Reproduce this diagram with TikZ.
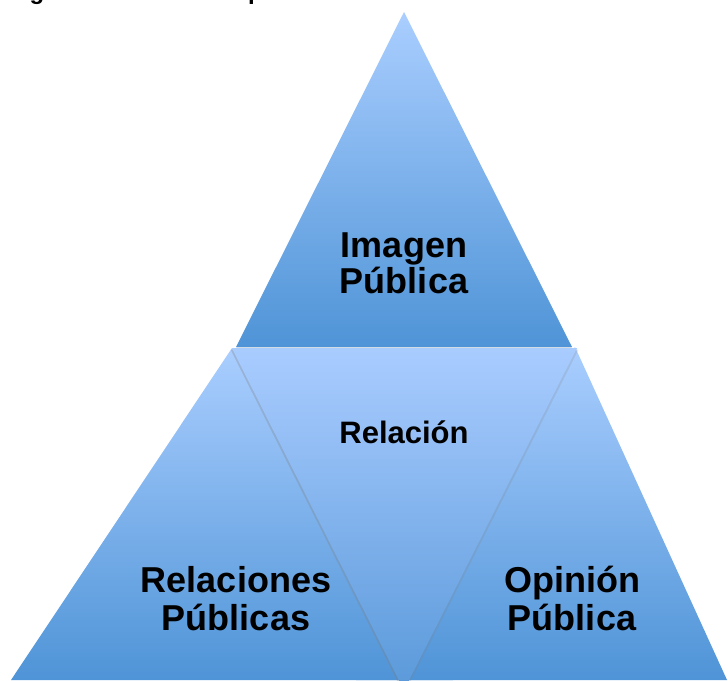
\documentclass[tikz,border=0pt]{standalone}
\usepackage{fontspec}
\setmainfont{Liberation Sans}
\usetikzlibrary{shadows}
\definecolor{triLight}{HTML}{AACEFF}
\definecolor{triDark}{HTML}{4F94D7}
\definecolor{midLight}{HTML}{A9CCFF}
\definecolor{midDark}{HTML}{5A99DA}
\tikzset{
  tri/.style={top color=triLight, bottom color=triDark, draw=none},
  midtri/.style={top color=midLight, bottom color=midDark, draw=none},
  bigtxt/.style={font=\bfseries\fontsize{36}{37}\selectfont, align=center, text=black, inner sep=0pt},
  smalltxt/.style={font=\bfseries\fontsize{31}{32}\selectfont, text=black, inner sep=0pt},
  cuttxt/.style={font=\bfseries\fontsize{24}{26}\selectfont, text=black, inner sep=0pt}
}
\begin{document}
\begin{tikzpicture}[x=1pt,y=-1pt]
\useasboundingbox (0,0) rectangle (728,680);
\begin{scope}
\clip (0,0) rectangle (728,680);
\fill[white] (0,0) rectangle (728,680);
% cropped caption fragments at the very top
\node[cuttxt, anchor=base] (capg) at (37,-1) {g};
\node[cuttxt, anchor=base west] (capp) at (248,-1) {p};
% left bottom triangle
\shade[tri] (232,348) -- (11,680) -- (453,680) -- cycle;
% right bottom triangle
\shade[tri] (575,347) -- (356,680) -- (727,680) -- cycle;
% top triangle
\shade[tri, drop shadow={shadow xshift=0pt, shadow yshift=-1.5pt, opacity=0.2}] (404,12) -- (236,347) -- (572,347) -- cycle;
% middle inverted triangle
\shade[midtri, drop shadow={shadow xshift=-1.5pt, shadow yshift=-1.5pt, opacity=0.3}] (232,348) -- (577,348) -- (404,690) -- cycle;
\shade[midtri, drop shadow={shadow xshift=1.5pt, shadow yshift=-1.5pt, opacity=0.2}] (232,348) -- (577,348) -- (404,690) -- cycle;
\end{scope}
% labels
\node[bigtxt, anchor=base] (img1) at (404,257) {Imagen};
\node[bigtxt, anchor=base] (img2) at (404,293) {Pública};
\node[smalltxt, anchor=base] (rel) at (404,443) {Relación};
\node[bigtxt, anchor=base] (rp1) at (236,592) {Relaciones};
\node[bigtxt, anchor=base] (rp2) at (236,630) {Públicas};
\node[bigtxt, anchor=base] (op1) at (572,592) {Opinión};
\node[bigtxt, anchor=base] (op2) at (572,630) {Pública};
\end{tikzpicture}
\end{document}
